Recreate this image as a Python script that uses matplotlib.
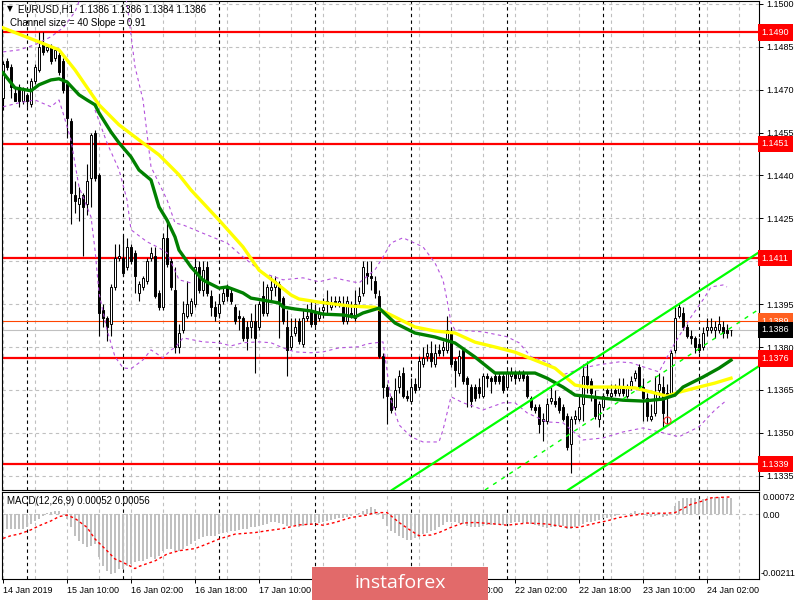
import matplotlib.pyplot as plt
import numpy as np
import pandas as pd
from matplotlib.patches import Rectangle

plt.rcParams['font.family'] = ['Liberation Sans', 'DejaVu Sans']

# EURUSD H1 candles
opens = [1.1467, 1.1480, 1.1478, 1.1469, 1.1471, 1.1466, 1.1468, 1.1465, 1.1473, 1.1477,
         1.1486, 1.1484, 1.1485, 1.1481, 1.1482, 1.1480, 1.1472, 1.1459, 1.1433, 1.1430,
         1.1433, 1.1430, 1.1439, 1.1455, 1.1440, 1.1393, 1.1390, 1.1388, 1.1401, 1.1411,
         1.1411, 1.1408, 1.1415, 1.1413, 1.1399, 1.1401, 1.1403, 1.1411, 1.1412, 1.1399,
         1.1394, 1.1418, 1.1410, 1.1400, 1.1380, 1.1386, 1.1391, 1.1392, 1.1395, 1.1408,
         1.1400, 1.1408, 1.1398, 1.1394, 1.1392, 1.1396, 1.1401, 1.1399, 1.1394, 1.1391,
         1.1390, 1.1387, 1.1387, 1.1389, 1.1387, 1.1398, 1.1392, 1.1400, 1.1401, 1.1402,
         1.1397, 1.1387, 1.1380, 1.1385, 1.1389, 1.1381, 1.1390, 1.1393, 1.1392, 1.1390,
         1.1393, 1.1396, 1.1394, 1.1396, 1.1395, 1.1394, 1.1389, 1.1392, 1.1390, 1.1396,
         1.1399, 1.1406, 1.1405, 1.1403, 1.1398, 1.1377, 1.1366, 1.1362, 1.1359, 1.1366,
         1.1371, 1.1363, 1.1361, 1.1367, 1.1366, 1.1374, 1.1377, 1.1378, 1.1374, 1.1379,
         1.1379, 1.1379, 1.1385, 1.1375, 1.1371, 1.1379, 1.1369, 1.1366, 1.1366, 1.1366,
         1.1363, 1.1370, 1.1369, 1.1370, 1.1370, 1.1370, 1.1366, 1.1370, 1.1371, 1.1369,
         1.1371, 1.1370, 1.1362, 1.1359, 1.1359, 1.1354, 1.1354, 1.1361, 1.1361, 1.1362,
         1.1359, 1.1356, 1.1346, 1.1355, 1.1355, 1.1360, 1.1370, 1.1368, 1.1363, 1.1355,
         1.1359, 1.1365, 1.1363, 1.1365, 1.1364, 1.1366, 1.1363, 1.1366, 1.1369, 1.1373,
         1.1366, 1.1362, 1.1355, 1.1357, 1.1365, 1.1366, 1.1364, 1.1364, 1.1379, 1.1391,
         1.1392, 1.1387, 1.1384, 1.1383, 1.1381, 1.1380, 1.1386, 1.1386, 1.1386, 1.1386,
         1.1387, 1.1386, 1.1386]
highs = [1.1480, 1.1481, 1.1479, 1.1471, 1.1472, 1.1471, 1.1469, 1.1474, 1.1479, 1.1490,
         1.1490, 1.1486, 1.1486, 1.1485, 1.1483, 1.1481, 1.1473, 1.1460, 1.1438, 1.1436,
         1.1434, 1.1444, 1.1455, 1.1456, 1.1441, 1.1395, 1.1391, 1.1402, 1.1416, 1.1416,
         1.1419, 1.1418, 1.1416, 1.1414, 1.1403, 1.1405, 1.1411, 1.1415, 1.1415, 1.1400,
         1.1420, 1.1424, 1.1411, 1.1408, 1.1388, 1.1396, 1.1403, 1.1397, 1.1411, 1.1410,
         1.1410, 1.1410, 1.1400, 1.1396, 1.1398, 1.1401, 1.1402, 1.1401, 1.1395, 1.1393,
         1.1391, 1.1389, 1.1392, 1.1395, 1.1396, 1.1403, 1.1402, 1.1405, 1.1405, 1.1403,
         1.1398, 1.1393, 1.1390, 1.1390, 1.1390, 1.1393, 1.1395, 1.1396, 1.1395, 1.1394,
         1.1397, 1.1400, 1.1398, 1.1398, 1.1398, 1.1398, 1.1398, 1.1396, 1.1400, 1.1401,
         1.1410, 1.1410, 1.1410, 1.1405, 1.1400, 1.1378, 1.1367, 1.1363, 1.1369, 1.1372,
         1.1373, 1.1365, 1.1369, 1.1369, 1.1377, 1.1380, 1.1381, 1.1382, 1.1381, 1.1381,
         1.1382, 1.1391, 1.1387, 1.1376, 1.1379, 1.1380, 1.1370, 1.1367, 1.1367, 1.1369,
         1.1371, 1.1371, 1.1370, 1.1371, 1.1371, 1.1371, 1.1372, 1.1373, 1.1372, 1.1372,
         1.1372, 1.1371, 1.1363, 1.1360, 1.1360, 1.1357, 1.1362, 1.1366, 1.1365, 1.1363,
         1.1360, 1.1357, 1.1356, 1.1358, 1.1363, 1.1374, 1.1375, 1.1369, 1.1365, 1.1361,
         1.1364, 1.1366, 1.1367, 1.1367, 1.1369, 1.1369, 1.1367, 1.1370, 1.1372, 1.1374,
         1.1369, 1.1364, 1.1360, 1.1370, 1.1371, 1.1370, 1.1367, 1.1379, 1.1394, 1.1395,
         1.1394, 1.1388, 1.1386, 1.1384, 1.1383, 1.1387, 1.1390, 1.1390, 1.1389, 1.1391,
         1.1389, 1.1388, 1.1386]
lows = [1.1463, 1.1477, 1.1467, 1.1466, 1.1464, 1.1465, 1.1464, 1.1464, 1.1472, 1.1476,
        1.1482, 1.1483, 1.1479, 1.1480, 1.1475, 1.1469, 1.1453, 1.1423, 1.1427, 1.1424,
        1.1412, 1.1426, 1.1429, 1.1438, 1.1384, 1.1387, 1.1382, 1.1384, 1.1400, 1.1410,
        1.1405, 1.1407, 1.1409, 1.1399, 1.1396, 1.1400, 1.1402, 1.1410, 1.1397, 1.1393,
        1.1393, 1.1408, 1.1400, 1.1378, 1.1378, 1.1385, 1.1390, 1.1391, 1.1394, 1.1399,
        1.1398, 1.1398, 1.1391, 1.1389, 1.1390, 1.1395, 1.1396, 1.1395, 1.1388, 1.1386,
        1.1382, 1.1379, 1.1383, 1.1371, 1.1386, 1.1391, 1.1391, 1.1396, 1.1398, 1.1383,
        1.1388, 1.1370, 1.1379, 1.1384, 1.1381, 1.1380, 1.1389, 1.1387, 1.1387, 1.1389,
        1.1390, 1.1392, 1.1393, 1.1394, 1.1394, 1.1388, 1.1388, 1.1390, 1.1389, 1.1395,
        1.1398, 1.1402, 1.1400, 1.1397, 1.1376, 1.1362, 1.1353, 1.1357, 1.1358, 1.1364,
        1.1362, 1.1361, 1.1360, 1.1364, 1.1365, 1.1373, 1.1375, 1.1373, 1.1373, 1.1377,
        1.1377, 1.1378, 1.1373, 1.1366, 1.1370, 1.1367, 1.1359, 1.1359, 1.1361, 1.1362,
        1.1362, 1.1366, 1.1364, 1.1367, 1.1367, 1.1364, 1.1365, 1.1368, 1.1367, 1.1368,
        1.1368, 1.1362, 1.1358, 1.1357, 1.1350, 1.1347, 1.1353, 1.1360, 1.1359, 1.1357,
        1.1354, 1.1344, 1.1336, 1.1353, 1.1354, 1.1354, 1.1364, 1.1361, 1.1355, 1.1352,
        1.1358, 1.1363, 1.1362, 1.1363, 1.1363, 1.1363, 1.1362, 1.1365, 1.1368, 1.1365,
        1.1354, 1.1354, 1.1354, 1.1356, 1.1362, 1.1352, 1.1353, 1.1363, 1.1378, 1.1390,
        1.1386, 1.1383, 1.1381, 1.1378, 1.1378, 1.1379, 1.1384, 1.1385, 1.1383, 1.1385,
        1.1383, 1.1383, 1.1384]
closes = [1.1479, 1.1478, 1.1471, 1.1466, 1.1466, 1.1470, 1.1466, 1.1473, 1.1478, 1.1485,
          1.1483, 1.1485, 1.1480, 1.1484, 1.1476, 1.1470, 1.1460, 1.1434, 1.1431, 1.1432,
          1.1429, 1.1438, 1.1454, 1.1439, 1.1392, 1.1390, 1.1387, 1.1401, 1.1411, 1.1412,
          1.1406, 1.1415, 1.1410, 1.1405, 1.1402, 1.1404, 1.1410, 1.1413, 1.1398, 1.1394,
          1.1418, 1.1409, 1.1401, 1.1380, 1.1385, 1.1392, 1.1395, 1.1396, 1.1408, 1.1400,
          1.1407, 1.1399, 1.1394, 1.1391, 1.1395, 1.1399, 1.1398, 1.1396, 1.1389, 1.1390,
          1.1383, 1.1383, 1.1389, 1.1383, 1.1395, 1.1392, 1.1401, 1.1401, 1.1403, 1.1396,
          1.1389, 1.1379, 1.1384, 1.1387, 1.1382, 1.1390, 1.1391, 1.1388, 1.1388, 1.1392,
          1.1394, 1.1395, 1.1395, 1.1395, 1.1396, 1.1389, 1.1396, 1.1391, 1.1395, 1.1398,
          1.1408, 1.1405, 1.1404, 1.1399, 1.1377, 1.1366, 1.1363, 1.1358, 1.1365, 1.1370,
          1.1363, 1.1362, 1.1366, 1.1365, 1.1375, 1.1376, 1.1378, 1.1375, 1.1378, 1.1378,
          1.1380, 1.1386, 1.1374, 1.1372, 1.1377, 1.1368, 1.1367, 1.1361, 1.1362, 1.1364,
          1.1370, 1.1369, 1.1368, 1.1368, 1.1368, 1.1365, 1.1371, 1.1371, 1.1369, 1.1371,
          1.1369, 1.1363, 1.1359, 1.1358, 1.1353, 1.1355, 1.1360, 1.1362, 1.1360, 1.1358,
          1.1355, 1.1345, 1.1355, 1.1356, 1.1359, 1.1370, 1.1367, 1.1364, 1.1356, 1.1360,
          1.1363, 1.1364, 1.1364, 1.1364, 1.1366, 1.1364, 1.1366, 1.1368, 1.1371, 1.1366,
          1.1362, 1.1356, 1.1356, 1.1364, 1.1367, 1.1357, 1.1363, 1.1378, 1.1390, 1.1394,
          1.1387, 1.1384, 1.1383, 1.1380, 1.1379, 1.1385, 1.1387, 1.1387, 1.1387, 1.1388,
          1.1385, 1.1385, 1.1386]

# yellow (slow) moving average, sampled along the line
slow_ma_bar = [0, 9, 14, 18, 24, 29, 34, 39, 44, 47, 54, 60, 64, 68, 72, 74, 79, 83, 87, 93,
               98, 103, 108, 113, 118, 123, 128, 133, 138, 143, 146, 153, 158, 163, 166, 169,
               174, 178, 182]
slow_ma_val = [1.14916, 1.14867, 1.14839, 1.14769, 1.14647, 1.14577, 1.14524, 1.14472,
               1.14402, 1.14349, 1.14244, 1.14150, 1.14069, 1.14027, 1.13982, 1.13968,
               1.13957, 1.13950, 1.13943, 1.13939, 1.13905, 1.13870, 1.13856, 1.13849,
               1.13817, 1.13800, 1.13782, 1.13754, 1.13726, 1.13667, 1.13660, 1.13660,
               1.13657, 1.13639, 1.13628, 1.13642, 1.13660, 1.13674, 1.13691]

# green (fast) moving average
fast_ma_bar = [0, 3, 7, 9, 12, 14, 16, 19, 21, 23, 24, 27, 29, 32, 34, 37, 39, 41, 43, 44,
               47, 50, 54, 56, 60, 62, 65, 69, 70, 73, 77, 80, 85, 88, 90, 94, 98, 103, 108,
               113, 118, 123, 128, 133, 136, 140, 143, 150, 155, 160, 165, 168, 170, 175,
               179, 182]
fast_ma_val = [1.14759, 1.14706, 1.14696, 1.14717, 1.14734, 1.14738, 1.14727, 1.14682,
               1.14664, 1.14647, 1.14619, 1.14552, 1.14514, 1.14465, 1.14419, 1.14384,
               1.14290, 1.14244, 1.14185, 1.14139, 1.14080, 1.14034, 1.14006, 1.14010,
               1.13989, 1.13971, 1.13964, 1.13954, 1.13940, 1.13933, 1.13926, 1.13915,
               1.13912, 1.13905, 1.13919, 1.13936, 1.13884, 1.13849, 1.13835, 1.13814,
               1.13765, 1.13709, 1.13709, 1.13709, 1.13691, 1.13660, 1.13632, 1.13621,
               1.13614, 1.13611, 1.13618, 1.13632, 1.13660, 1.13695, 1.13726, 1.13754]

# purple dashed bands
band_up_bar = [0, 4, 8, 12, 15, 18, 20, 30, 31, 33, 35, 37, 41, 43, 45, 51, 56, 60, 65, 70,
               75, 79, 83, 85, 89, 93, 95, 97, 100, 105, 108, 110, 111, 112, 113, 120, 126,
               129, 132, 136, 140, 145, 149, 154, 157, 160, 164, 168, 172, 175, 177, 180, 181]
band_up_val = [1.14832, 1.14839, 1.14857, 1.14885, 1.14916, 1.14972, 1.15045, 1.15045,
               1.15003, 1.14780, 1.14664, 1.14430, 1.14315, 1.14234, 1.14227, 1.14192,
               1.14164, 1.14115, 1.14059, 1.14035, 1.14042, 1.14028, 1.14042, 1.14035,
               1.14024, 1.14070, 1.14115, 1.14164, 1.14182, 1.14150, 1.14094, 1.14035,
               1.13965, 1.13884, 1.13860, 1.13853, 1.13836, 1.13815, 1.13766, 1.13748,
               1.13703, 1.13727, 1.13738, 1.13748, 1.13745, 1.13731, 1.13713, 1.13815,
               1.13905, 1.13965, 1.14010, 1.14017, 1.14010]
band_mid_bar = [23, 26, 29, 31, 32, 36, 39, 41, 44, 47]
band_mid_val = [1.14629, 1.14514, 1.14420, 1.14315, 1.14210, 1.14168, 1.14147, 1.14129,
                1.14035, 1.14024]
band_lo_bar = [0, 4, 8, 12, 14, 15, 17, 19, 22, 23, 24, 26, 28, 30, 32, 35, 37, 40, 42, 43,
               45, 50, 54, 57, 60, 64, 67, 70, 73, 77, 80, 84, 89, 91, 95, 97, 99, 102, 105,
               109, 110, 112, 115, 118, 120, 125, 128, 131, 136, 140, 145, 150, 155, 160,
               165, 169, 174, 178, 181]
band_lo_val = [1.14640, 1.14654, 1.14664, 1.14640, 1.14664, 1.14619, 1.14524, 1.14360,
               1.14255, 1.14140, 1.13989, 1.13860, 1.13766, 1.13727, 1.13724, 1.13755,
               1.13790, 1.13762, 1.13790, 1.13797, 1.13832, 1.13818, 1.13815, 1.13804,
               1.13815, 1.13818, 1.13815, 1.13797, 1.13783, 1.13780, 1.13783, 1.13797,
               1.13801, 1.13811, 1.13818, 1.13615, 1.13528, 1.13486, 1.13468, 1.13468,
               1.13510, 1.13626, 1.13605, 1.13591, 1.13580, 1.13605, 1.13605, 1.13570,
               1.13538, 1.13535, 1.13475, 1.13482, 1.13503, 1.13517, 1.13500, 1.13486,
               1.13521, 1.13580, 1.13615]

# regression channel (start / end points)
chan_up_bar, chan_up_val = [97.25, 188.75], [1.13300, 1.14129]
chan_mid_bar, chan_mid_val = [120.5, 188.75], [1.13300, 1.13930]
chan_lo_bar, chan_lo_val = [141.25, 188.75], [1.13300, 1.13731]
mark_bar, mark_val = [166], [1.13545]

levels = [1.1490, 1.1451, 1.1411, 1.1376, 1.1339]
ask_price = 1.1389
bid_price = 1.1386
price_ticks = [1.1500, 1.1485, 1.1470, 1.1455, 1.1440, 1.1425, 1.1410, 1.1395,
               1.1380, 1.1365, 1.1350, 1.1335]

# MACD(12,26,9) histogram and signal
macd_hist = [-0.00060, -0.00049, -0.00049, -0.00047, -0.00049, -0.00047, -0.00043, -0.00032,
             -0.00022, -0.00016, -0.00005, 0.00005, 0.00008, 0.00011, 0.00009, 0.0, -0.00016,
             -0.00043, -0.00070, -0.00087, -0.00097, -0.00108, -0.00103, -0.00097, -0.00141,
             -0.00168, -0.00184, -0.00195, -0.00190, -0.00179, -0.00179, -0.00168, -0.00162,
             -0.00157, -0.00152, -0.00152, -0.00146, -0.00141, -0.00146, -0.00135, -0.00119,
             -0.00114, -0.00114, -0.00119, -0.00119, -0.00114, -0.00103, -0.00097, -0.00087,
             -0.00081, -0.00076, -0.00070, -0.00070, -0.00070, -0.00065, -0.00060, -0.00057,
             -0.00054, -0.00054, -0.00051, -0.00049, -0.00047, -0.00043, -0.00043, -0.00038,
             -0.00036, -0.00032, -0.00027, -0.00027, -0.00029, -0.00032, -0.00038, -0.00038,
             -0.00036, -0.00043, -0.00038, -0.00036, -0.00032, -0.00027, -0.00029, -0.00027,
             -0.00022, -0.00018, -0.00016, -0.00014, -0.00011, -0.00009, -0.00005, 0.0,
             0.00005, 0.00011, 0.00018, 0.00022, 0.00018, 0.00005, -0.00016, -0.00038,
             -0.00054, -0.00060, -0.00070, -0.00079, -0.00083, -0.00084, -0.00079, -0.00073,
             -0.00065, -0.00060, -0.00056, -0.00051, -0.00043, -0.00036, -0.00027, -0.00025,
             -0.00027, -0.00029, -0.00032, -0.00038, -0.00041, -0.00043, -0.00041, -0.00038,
             -0.00036, -0.00035, -0.00034, -0.00032, -0.00034, -0.00032, -0.00030, -0.00027,
             -0.00027, -0.00029, -0.00029, -0.00032, -0.00035, -0.00038, -0.00043, -0.00044,
             -0.00043, -0.00041, -0.00038, -0.00038, -0.00049, -0.00049, -0.00043, -0.00038,
             -0.00032, -0.00027, -0.00025, -0.00022, -0.00018, -0.00014, -0.00011, -0.00008,
             -0.00005, -0.00003, -0.00001, 0.00002, 0.00005, 0.00009, 0.00005, 0.0, -0.00005,
             -0.00008, -0.00005, -0.00003, -0.00008, -0.00005, 0.0, 0.00027, 0.00043, 0.00051,
             0.00053, 0.00053, 0.00051, 0.00049, 0.00049, 0.00052, 0.00054, 0.00056, 0.00056,
             0.00055, 0.00054, 0.00052]
signal_bar = [0, 2, 4, 7, 9, 12, 14, 16, 18, 21, 23, 26, 28, 30, 33, 34, 38, 41, 44, 48, 51,
              54, 58, 63, 66, 70, 74, 78, 80, 83, 87, 91, 93, 96, 99, 102, 104, 107, 109, 112,
              115, 118, 123, 126, 131, 136, 141, 144, 146, 149, 151, 154, 158, 161, 166, 168,
              170, 172, 175, 177, 180, 182]
signal_val = [-0.00079, -0.00070, -0.00065, -0.00051, -0.00038, -0.00022, -0.00008, -0.00003,
              -0.00014, -0.00043, -0.00081, -0.00119, -0.00146, -0.00157, -0.00177, -0.00170,
              -0.00152, -0.00130, -0.00119, -0.00112, -0.00097, -0.00081, -0.00065, -0.00060,
              -0.00054, -0.00047, -0.00035, -0.00032, -0.00036, -0.00027, -0.00011, -0.00003,
              0.00005, 0.00005, -0.00027, -0.00054, -0.00070, -0.00068, -0.00060, -0.00043,
              -0.00029, -0.00027, -0.00032, -0.00036, -0.00029, -0.00032, -0.00043, -0.00043,
              -0.00036, -0.00027, -0.00022, -0.00011, -0.00003, 0.00003, 0.00003, 0.00005,
              0.00018, 0.00032, 0.00043, 0.00053, 0.00055, 0.00056]

# hourly bar times (no weekend bars)
times = pd.date_range('2019-01-14 18:00', periods=260, freq='h')
times = times[times.dayofweek < 5][:len(closes)]

W, H = 800, 600
fig = plt.figure(figsize=(8, 6), dpi=100)


def px_axes(left, top, right, bottom):
    return fig.add_axes([left / W, 1 - bottom / H, (right - left) / W, (bottom - top) / H])


ax = px_axes(2, 1, 759, 490)
mx = px_axes(2, 492, 759, 579)

x = np.arange(len(closes))
o, h, l, c = (np.array(v) for v in (opens, highs, lows, closes))
up = c >= o

grid_kw = dict(color='#c0c0c0', lw=0.8, ls=(0, (3, 3)), zorder=0.5)
sep_kw = dict(color='black', lw=0.8, ls=(0, (3, 3)), zorder=0.6)
day_bars = [i for i, t in enumerate(times) if t.hour == 0]

for a in (ax, mx):
    for b in range(0, 189, 8):
        a.axvline(b, **grid_kw)
    for b in day_bars:
        a.axvline(b, **sep_kw)
    a.set_xlim(-0.25, 189)
    for s in a.spines.values():
        s.set_linewidth(0.8)

for p in price_ticks:
    ax.axhline(p, **grid_kw)

# support / resistance
for lv in levels:
    ax.axhline(lv, color='#ff0000', lw=1.6, zorder=1)
ax.axhline(ask_price, color='#ff4500', lw=0.8, zorder=1)
ax.axhline(bid_price, color='#c0c0c0', lw=0.8, zorder=1)

# candles
ax.vlines(x, l, h, color='black', lw=0.8, zorder=3)
ax.bar(x[up], (c - o)[up], bottom=o[up], width=0.55, color='white',
       edgecolor='black', lw=0.7, zorder=4)
ax.bar(x[~up], (o - c)[~up], bottom=c[~up], width=0.55, color='black',
       edgecolor='black', lw=0.7, zorder=4)

# indicators
band_kw = dict(color='#b452dc', lw=0.8, ls=(0, (3, 3)), zorder=5)
ax.plot(band_up_bar, band_up_val, **band_kw)
ax.plot(band_mid_bar, band_mid_val, **band_kw)
ax.plot(band_lo_bar, band_lo_val, **band_kw)
ax.plot(slow_ma_bar, slow_ma_val, color='#ffff00', lw=2.4, zorder=6)
ax.plot(fast_ma_bar, fast_ma_val, color='#008000', lw=2.4, zorder=6)
ax.plot(chan_up_bar, chan_up_val, color='#00ff00', lw=1.6, zorder=6)
ax.plot(chan_lo_bar, chan_lo_val, color='#00ff00', lw=1.6, zorder=6)
ax.plot(chan_mid_bar, chan_mid_val, color='#00ff00', lw=1.0, ls=(0, (3, 4)), zorder=6)
ax.plot(mark_bar, mark_val, 'o', mfc='none', mec='#ff3030', ms=5, mew=0.8, zorder=7)

ax.set_ylim(1.13300, 1.15010)
ax.set_xticks([])
ax.yaxis.tick_right()
ax.set_yticks(price_ticks)
# the 1.1410 label sits under the 1.1411 level box
ax.set_yticklabels(['' if abs(p - 1.1410) < 1e-6 else f'{p:.4f}' for p in price_ticks])
ax.tick_params(axis='y', length=3, width=0.7, labelsize=6.5, pad=2)

# price boxes on the right scale
box_kw = dict(xycoords=('axes fraction', 'data'), xytext=(2, 0), textcoords='offset points',
              va='center', ha='left', fontsize=6.5, annotation_clip=False, zorder=8)
for lv in levels:
    ax.annotate(f'{lv:.4f}', xy=(1, lv), color='white',
                bbox=dict(boxstyle='square,pad=0.4', fc='#ff0000', ec='none'), **box_kw)
ax.annotate(f'{ask_price:.4f}', xy=(1, ask_price), color='white',
            bbox=dict(boxstyle='square,pad=0.4', fc='#ff6020', ec='none'), **box_kw)
ax.annotate(f'{bid_price:.4f}', xy=(1, bid_price), color='white',
            bbox=dict(boxstyle='square,pad=0.4', fc='black', ec='none'), **box_kw)

# MACD panel
mx.bar(x, macd_hist, width=0.55, color='#c0c0c0', zorder=2)
mx.plot(signal_bar, signal_val, color='#ff0000', lw=1.0, ls=(0, (2, 2)), zorder=3)
mx.axhline(0, **grid_kw)
mx.set_ylim(-0.00211, 0.00072)
mx.set_yticks([])
label_bars = list(range(0, len(closes), 16))
labels = []
for b in label_bars:
    if 300 < 3 + 4 * b < 440:      # hidden under the watermark
        labels.append('')
    elif b == 0:
        labels.append(times[b].strftime('%d %b %Y'))
    else:
        labels.append(times[b].strftime('%d %b %H:%M'))
mx.set_xticks(label_bars)
mx.set_xticklabels(labels, ha='left')
mx.tick_params(axis='x', length=3, width=0.7, labelsize=6.5, pad=2)

fig.text(763 / W, 1 - 497 / H, '0.00072', fontsize=6.5, va='center')
fig.text(763 / W, 1 - 515 / H, '0.00', fontsize=6.5, va='center')
fig.text(761 / W, 1 - 574 / H, '-0.00211', fontsize=6.5, va='center')

# header texts
fig.text(7 / W, 1 - 9 / H, '\u25bc', fontsize=5.5, va='center', family='DejaVu Sans')
fig.text(18 / W, 1 - 9 / H, 'EURUSD,H1  1.1386 1.1386 1.1384 1.1386', fontsize=7, va='center')
fig.text(10 / W, 1 - 23 / H, 'Channel size = 40 Slope = 0.91', fontsize=7, va='center')
fig.text(7 / W, 1 - 501 / H, 'MACD(12,26,9) 0.00052 0.00056', fontsize=7, va='center')

# watermark
fig.patches.append(Rectangle((312 / W, 0), 176 / W, 33 / H, transform=fig.transFigure,
                             fc='#e26a6a', ec='none', zorder=10))
fig.text(400 / W, 1 - 583 / H, 'instaforex', color='white', fontsize=14,
         family='Open Sans', ha='center', va='center', zorder=11)

fig.savefig('out.png', dpi=100, facecolor='white')
